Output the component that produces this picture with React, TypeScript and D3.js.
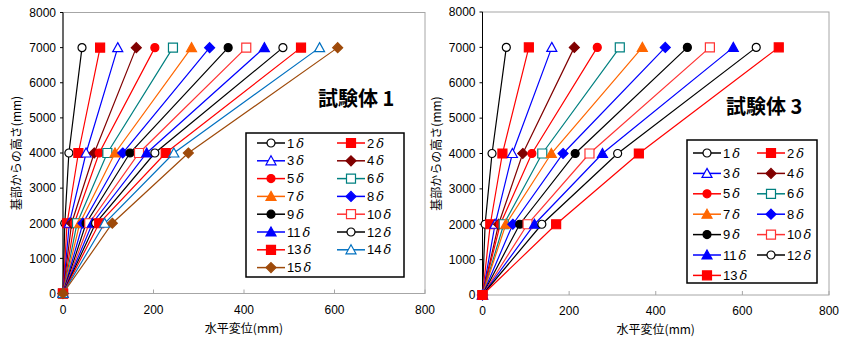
import React from "react";
import * as d3 from "d3";

// 高さ (mm)
const heights = [0, 2000, 4000, 7000];

// 試験体1 : 各サイクルの水平変位 (mm)
const s1At2000 = [4, 9, 14, 19, 25, 31, 37, 44, 51, 58, 65, 72, 80, 92, 109];
const s1At4000 = [13, 34, 51, 69, 80, 98, 115, 132, 148, 168, 185, 203, 227, 245, 277];
const s1At7000 = [42, 82, 121, 162, 203, 243, 284, 324, 365, 405, 445, 486, 526, 567, 607];

// 試験体3
const s3At2000 = [6, 18, 29, 37, 41, 49, 54, 70, 86, 104, 120, 137, 170];
const s3At4000 = [22, 46, 69, 93, 114, 138, 159, 186, 214, 247, 277, 312, 361];
const s3At7000 = [55, 107, 160, 212, 265, 317, 369, 422, 473, 525, 579, 632, 684];

const xTicks = [0, 200, 400, 600, 800];
const yTicks = [0, 1000, 2000, 3000, 4000, 5000, 6000, 7000, 8000];

type Kind = "circle" | "square" | "triangle" | "diamond";
type Style = { color: string; kind: Kind; filled: boolean };

const styles: Style[] = [
  { color: "#000000", kind: "circle", filled: false },
  { color: "#FF0000", kind: "square", filled: true },
  { color: "#0000FF", kind: "triangle", filled: false },
  { color: "#800000", kind: "diamond", filled: true },
  { color: "#FF0000", kind: "circle", filled: true },
  { color: "#008080", kind: "square", filled: false },
  { color: "#FF6600", kind: "triangle", filled: true },
  { color: "#0000FF", kind: "diamond", filled: true },
  { color: "#000000", kind: "circle", filled: true },
  { color: "#FF3333", kind: "square", filled: false },
  { color: "#0000FF", kind: "triangle", filled: true },
  { color: "#000000", kind: "circle", filled: false },
  { color: "#FF0000", kind: "square", filled: true },
  { color: "#0070C0", kind: "triangle", filled: false },
  { color: "#9E4A0A", kind: "diamond", filled: true },
];

const markerPath = (kind: Kind) => {
  if (kind === "circle") return "M4,0A4,4 0 1,1 -4,0A4,4 0 1,1 4,0Z";
  if (kind === "square") return "M-4.5,-4.5H4.5V4.5H-4.5Z";
  if (kind === "triangle") return "M0,-5L5,4H-5Z";
  return "M0,-5L5,0L0,5L-5,0Z";
};

const Marker = ({ s, x, y }: { s: Style; x: number; y: number }) => (
  <path
    d={markerPath(s.kind)}
    transform={`translate(${x},${y})`}
    fill={s.filled ? s.color : "#fff"}
    stroke={s.color}
    strokeWidth={1.2}
  />
);

const numFont = "'Liberation Sans', Arial, sans-serif";
const jpFont = "'Noto Sans CJK JP', sans-serif";

type PanelProps = {
  at2000: number[];
  at4000: number[];
  at7000: number[];
  x0: number;
  x1: number;
  y0: number;
  y1: number;
  title: string;
  titleX: number;
  titleY: number;
  legend: { left: number; top: number; right: number; bottom: number; row0: number; rowH: number; col: number[] };
};

const Panel = (p: PanelProps) => {
  const x = d3.scaleLinear().domain([0, 800]).range([p.x0, p.x1]);
  const y = d3.scaleLinear().domain([0, 8000]).range([p.y0, p.y1]);
  const series = p.at7000.map((v, i) => [0, p.at2000[i], p.at4000[i], v]);
  const line = d3
    .line<number>()
    .x((d) => x(d))
    .y((_, j) => y(heights[j]));
  const lg = p.legend;

  return (
    <g>
      <rect x={p.x0} y={p.y1} width={p.x1 - p.x0} height={p.y0 - p.y1} fill="none" stroke="#A6A6A6" />
      <line x1={p.x0} x2={p.x0} y1={p.y0} y2={p.y1} stroke="#000" />
      {xTicks.map((t) => (
        <g key={t}>
          <line x1={x(t)} x2={x(t)} y1={p.y0} y2={p.y0 - 4} stroke="#A6A6A6" />
          <text x={x(t)} y={p.y0 + 20} textAnchor="middle" fontSize={12} fontFamily={numFont}>
            {t}
          </text>
        </g>
      ))}
      {yTicks.map((t) => (
        <g key={t}>
          <line x1={p.x0 - 3} x2={p.x0} y1={y(t)} y2={y(t)} stroke="#000" />
          <text x={p.x0 - 7} y={y(t)} dy="0.36em" textAnchor="end" fontSize={12} fontFamily={numFont}>
            {t}
          </text>
        </g>
      ))}
      <text
        x={(p.x0 + p.x1) / 2}
        y={p.y0 + 39}
        textAnchor="middle"
        fontSize={12}
        fontFamily={jpFont}
      >
        水平変位(mm)
      </text>
      <text
        transform={`translate(${p.x0 - 42},${(p.y0 + p.y1) / 2}) rotate(-90)`}
        textAnchor="middle"
        fontSize={12}
        fontFamily={jpFont}
      >
        基部からの高さ(mm)
      </text>

      {series.map((d, i) => (
        <path key={i} d={line(d) ?? ""} fill="none" stroke={styles[i].color} strokeWidth={1.2} />
      ))}
      {series.map((d, i) =>
        d.map((v, j) => <Marker key={`${i}-${j}`} s={styles[i]} x={x(v)} y={y(heights[j])} />)
      )}

      <text x={p.titleX} y={p.titleY} fontSize={20} fontWeight="bold" fontFamily={jpFont}>
        {p.title}
      </text>

      <rect
        x={lg.left}
        y={lg.top}
        width={lg.right - lg.left}
        height={lg.bottom - lg.top}
        fill="#fff"
        stroke="#000"
        strokeWidth={1.5}
      />
      {series.map((_, i) => {
        const cx = lg.col[i % 2];
        const cy = lg.row0 + Math.floor(i / 2) * lg.rowH;
        return (
          <g key={i}>
            <line x1={cx} x2={cx + 28} y1={cy} y2={cy} stroke={styles[i].color} strokeWidth={1.5} />
            <Marker s={styles[i]} x={cx + 14} y={cy} />
            <text x={cx + 30} y={cy} dy="0.36em" fontSize={13} fontFamily={numFont}>
              {i + 1}
              <tspan dx={2} fontStyle="italic" fontFamily="'DejaVu Serif', serif">
                δ
              </tspan>
            </text>
          </g>
        );
      })}
    </g>
  );
};

const App = () => (
  <svg width={850} height={338} style={{ position: "absolute", left: 0, top: 0, background: "#fff" }}>
    <Panel
      at2000={s1At2000}
      at4000={s1At4000}
      at7000={s1At7000}
      x0={63}
      x1={425}
      y0={293.5}
      y1={12.5}
      title="試験体 1"
      titleX={318}
      titleY={106}
      legend={{ left: 246, top: 133, right: 404, bottom: 277, row0: 143, rowH: 17.8, col: [257, 337] }}
    />
    <Panel
      at2000={s3At2000}
      at4000={s3At4000}
      at7000={s3At7000}
      x0={482.5}
      x1={829}
      y0={295}
      y1={12}
      title="試験体 3"
      titleX={726}
      titleY={114}
      legend={{ left: 687, top: 140, right: 817, bottom: 283, row0: 153, rowH: 20.4, col: [693, 757] }}
    />
  </svg>
);

export default App;
